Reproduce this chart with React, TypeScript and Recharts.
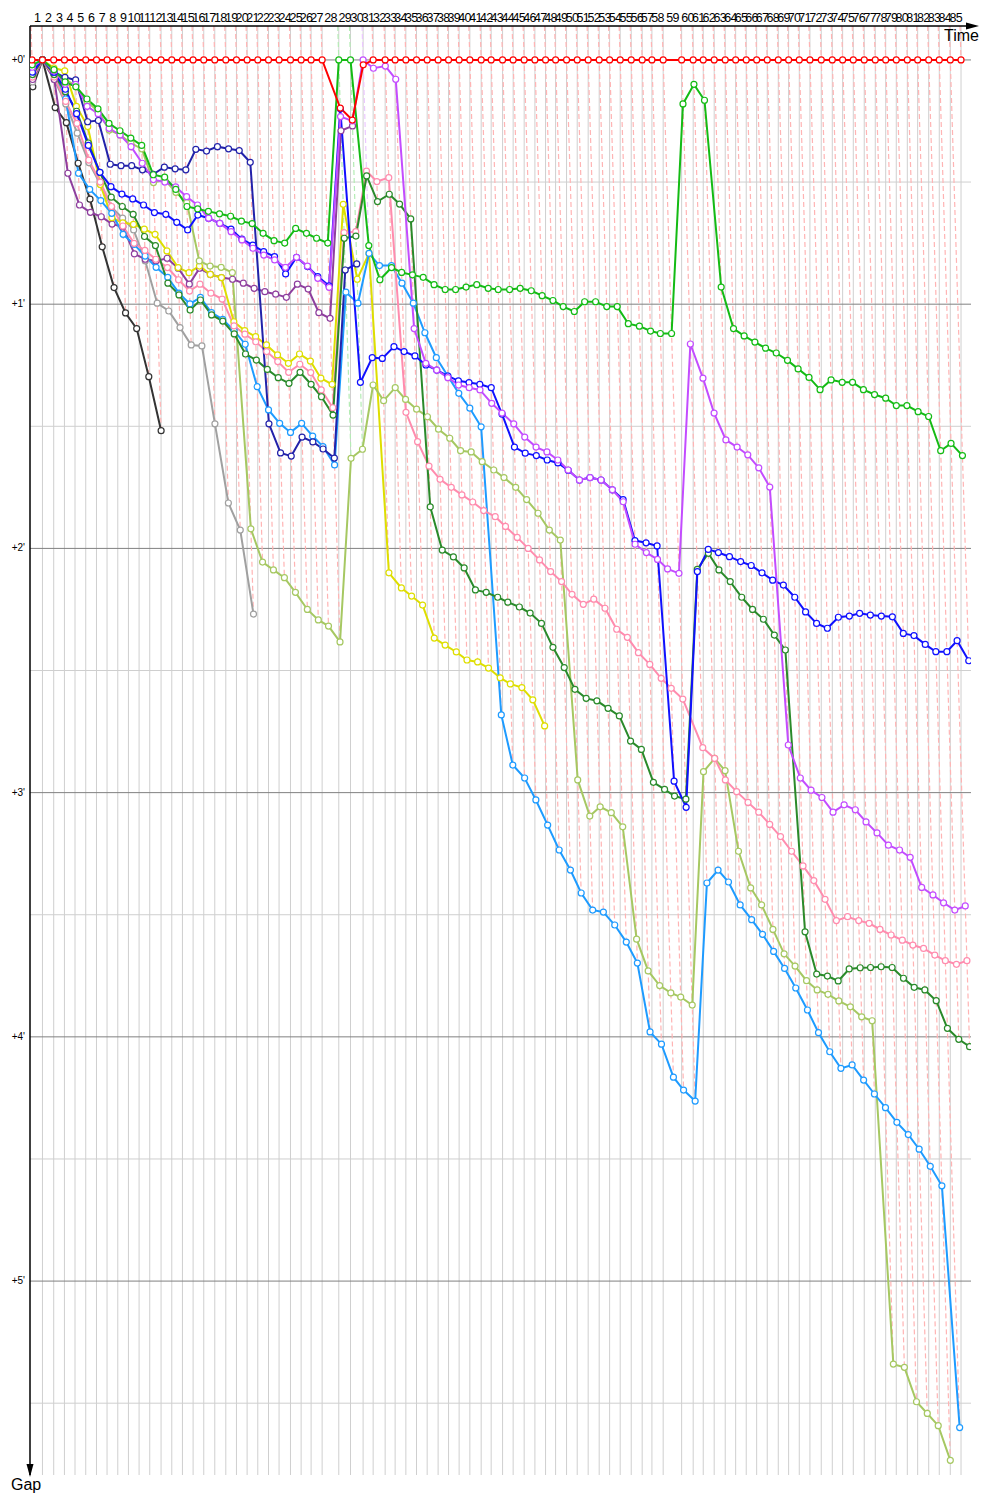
import React from 'react';
import { ComposedChart, Line, XAxis, YAxis, ReferenceLine } from 'recharts';

// leader's elapsed time (minutes) when completing each lap, index 0 = start
const lapTimes = [
  0, 1.39, 2.89, 4.32, 5.73, 7.16, 8.59, 10.0, 11.43, 12.85,
  14.27, 15.69, 17.2, 18.63, 20.05, 21.47, 22.89, 24.36, 25.83, 27.25,
  28.67, 30.09, 31.52, 32.93, 34.45, 35.87, 37.2, 38.67, 40.89, 42.45,
  44.13, 45.47, 47.07, 48.4, 49.83, 51.25, 52.67, 54.13, 55.52, 56.93,
  58.36, 59.87, 61.2, 62.72, 64.13, 65.6, 67.03, 68.45, 69.79, 71.25,
  72.67, 74.13, 75.6, 76.99, 78.4, 79.87, 81.33, 82.63, 84.13, 86.59,
  88.13, 89.47, 90.93, 92.4, 93.79, 95.2, 96.59, 98.0, 99.47, 100.85,
  102.27, 103.69, 105.2, 106.67, 108.05, 109.47, 110.93, 112.4, 113.79, 115.2,
  116.67, 118.05, 119.52, 120.93, 122.4, 123.83,
];

const lapLabels = lapTimes.slice(1).map((_, i) => String(i + 1));
const gapTicks = [0, 1, 2, 3, 4, 5];
const halfLines = [0.5, 1.5, 2.5, 3.5, 4.5, 5.5];

// gap to leader in minutes, index = lap
const redGaps = [
  0, 0, 0, 0, 0, 0, 0, 0, 0, 0,
  0, 0, 0, 0, 0, 0, 0, 0, 0, 0,
  0, 0, 0, 0, 0, 0, 0, 0, 0.197, 0.246,
  0.02, 0, 0, 0, 0, 0, 0, 0, 0, 0,
  0, 0, 0, 0, 0, 0, 0, 0, 0, 0,
  0, 0, 0, 0, 0, 0, 0, 0, 0, 0,
  0, 0, 0, 0, 0, 0, 0, 0, 0, 0,
  0, 0, 0, 0, 0, 0, 0, 0, 0, 0,
  0, 0, 0, 0, 0, 0,
];
const greenGaps = [
  0.02, 0, 0.04, 0.09, 0.11, 0.16, 0.2, 0.26, 0.29, 0.32,
  0.35, 0.47, 0.48, 0.53, 0.6, 0.61, 0.62, 0.63, 0.64, 0.66,
  0.67, 0.71, 0.74, 0.75, 0.69, 0.71, 0.73, 0.75, 0, 0,
  0.76, 0.9, 0.85, 0.87, 0.88, 0.89, 0.92, 0.94, 0.94, 0.93,
  0.92, 0.935, 0.94, 0.94, 0.935, 0.945, 0.965, 0.985, 1.01, 1.03,
  0.99, 0.99, 1.01, 1.01, 1.08, 1.09, 1.11, 1.12, 1.12, 0.18,
  0.1, 0.165, 0.93, 1.1, 1.13, 1.155, 1.18, 1.2, 1.23, 1.265,
  1.3, 1.35, 1.31, 1.32, 1.32, 1.35, 1.37, 1.385, 1.415, 1.415,
  1.44, 1.46, 1.6, 1.57, 1.62,
];
const purpleGaps = [
  0.03, 0, 0.045, 0.1, 0.1, 0.19, 0.22, 0.28, 0.307, 0.355,
  0.423, 0.49, 0.5, 0.52, 0.56, 0.594, 0.648, 0.669, 0.703, 0.737,
  0.771, 0.799, 0.819, 0.849, 0.808, 0.844, 0.894, 0.931, 0.232, 0.25,
  0, 0.034, 0.025, 0.079, 1.1, 1.242, 1.27, 1.301, 1.331, 1.342,
  1.351, 1.406, 1.446, 1.49, 1.544, 1.585, 1.605, 1.638, 1.679, 1.72,
  1.71, 1.72, 1.76, 1.809, 1.983, 2.017, 2.045, 2.084, 2.102, 1.163,
  1.303, 1.446, 1.556, 1.585, 1.617, 1.67, 1.749, 2.805, 2.94, 2.99,
  3.02, 3.08, 3.05, 3.07, 3.12, 3.165, 3.215, 3.235, 3.265, 3.388,
  3.419, 3.451, 3.481, 3.464,
];
const blueGaps = [
  0.05, 0, 0.05, 0.12, 0.22, 0.35, 0.46, 0.519, 0.549, 0.569,
  0.594, 0.625, 0.632, 0.665, 0.696, 0.635, 0.648, 0.669, 0.693, 0.734,
  0.758, 0.785, 0.805, 0.876, 0.808, 0.846, 0.887, 0.925, 0.2, 1.32,
  1.219, 1.222, 1.174, 1.194, 1.212, 1.249, 1.27, 1.294, 1.314, 1.321,
  1.328, 1.342, 1.45, 1.585, 1.61, 1.62, 1.638, 1.65, 1.68, 1.72,
  1.71, 1.72, 1.76, 1.8, 1.968, 1.977, 1.99, 2.953, 3.06, 2.095,
  2.004, 2.017, 2.034, 2.054, 2.07, 2.1, 2.13, 2.15, 2.2, 2.26,
  2.307, 2.327, 2.282, 2.277, 2.266, 2.273, 2.277, 2.28, 2.348, 2.357,
  2.393, 2.423, 2.423, 2.378, 2.46,
];
const navyGaps = [
  0.03, 0, 0.05, 0.071, 0.082, 0.253, 0.248, 0.427, 0.433, 0.433,
  0.45, 0.468, 0.439, 0.446, 0.45, 0.366, 0.373, 0.355, 0.364, 0.371,
  0.419, 1.49, 1.609, 1.622, 1.544, 1.564, 1.593, 1.63, 0.86, 0.835,
];
const darkGreenGaps = [
  0.06, 0, 0.06, 0.13, 0.21, 0.34, 0.46, 0.562, 0.6, 0.632,
  0.723, 0.76, 0.914, 0.962, 1.024, 0.983, 1.044, 1.069, 1.122, 1.204,
  1.229, 1.267, 1.301, 1.324, 1.279, 1.328, 1.379, 1.454, 0.73, 0.721,
  0.475, 0.58, 0.55, 0.59, 0.651, 1.83, 2.007, 2.035, 2.08, 2.17,
  2.18, 2.2, 2.22, 2.24, 2.265, 2.307, 2.405, 2.488, 2.577, 2.614,
  2.624, 2.655, 2.686, 2.789, 2.823, 2.958, 2.987, 3.014, 3.027, 2.086,
  2.02, 2.088, 2.136, 2.2, 2.25, 2.29, 2.355, 2.416, 3.57, 3.743,
  3.751, 3.771, 3.722, 3.717, 3.716, 3.713, 3.716, 3.76, 3.797, 3.808,
  3.852, 3.965, 4.01, 4.04,
];
const pinkGaps = [
  0.07, 0, 0.07, 0.17, 0.26, 0.41, 0.5, 0.6, 0.68, 0.751,
  0.78, 0.816, 0.85, 0.9, 0.946, 0.918, 0.955, 0.979, 1.089, 1.123,
  1.154, 1.194, 1.235, 1.279, 1.246, 1.28, 1.351, 1.424, 0.707, 0.703,
  0.455, 0.498, 0.482, 1.443, 1.563, 1.663, 1.717, 1.75, 1.781, 1.81,
  1.845, 1.87, 1.91, 1.955, 2.0, 2.047, 2.095, 2.136, 2.188, 2.229,
  2.208, 2.245, 2.331, 2.364, 2.427, 2.475, 2.532, 2.573, 2.617, 2.816,
  2.86, 2.948, 2.996, 3.04, 3.08, 3.13, 3.18, 3.24, 3.3, 3.36,
  3.437, 3.524, 3.508, 3.524, 3.535, 3.56, 3.583, 3.604, 3.624, 3.638,
  3.665, 3.688, 3.703, 3.688,
];
const cyanGaps = [
  0.06, 0, 0.06, 0.16, 0.464, 0.53, 0.576, 0.628, 0.714, 0.755,
  0.803, 0.849, 0.89, 0.955, 0.999, 0.972, 1.035, 1.062, 1.108, 1.164,
  1.338, 1.433, 1.488, 1.525, 1.488, 1.54, 1.583, 1.658, 0.951, 0.996,
  0.792, 0.842, 0.842, 0.914, 0.996, 1.117, 1.219, 1.294, 1.365, 1.426,
  1.502, 2.682, 2.887, 2.94, 3.03, 3.133, 3.235, 3.317, 3.411, 3.481,
  3.489, 3.542, 3.612, 3.698, 3.98, 4.03, 4.165, 4.218, 4.263, 3.37,
  3.317, 3.366, 3.46, 3.52, 3.58, 3.65, 3.72, 3.8, 3.89, 3.983,
  4.061, 4.129, 4.115, 4.177, 4.234, 4.29, 4.35, 4.4, 4.46, 4.53,
  4.61, 5.6,
];
const oliveGaps = [
  0.04, 0, 0.05, 0.08, 0.106, 0.17, 0.21, 0.287, 0.307, 0.341,
  0.364, 0.502, 0.491, 0.542, 0.584, 0.823, 0.844, 0.849, 0.871, 1.92,
  2.056, 2.088, 2.12, 2.18, 2.25, 2.293, 2.318, 2.383, 1.631, 1.594,
  1.331, 1.395, 1.342, 1.39, 1.43, 1.461, 1.512, 1.549, 1.6, 1.605,
  1.645, 1.679, 1.71, 1.75, 1.8, 1.856, 1.925, 1.966, 2.948, 3.096,
  3.058, 3.082, 3.14, 3.6, 3.73, 3.79, 3.82, 3.837, 3.87, 2.914,
  2.86, 2.91, 3.24, 3.39, 3.46, 3.56, 3.66, 3.71, 3.77, 3.808,
  3.826, 3.853, 3.877, 3.918, 3.934, 5.34, 5.353, 5.494, 5.542, 5.592,
  5.734,
];
const yellowGaps = [
  0.05, 0, 0.033, 0.045, 0.19, 0.273, 0.51, 0.646, 0.667, 0.673,
  0.693, 0.714, 0.782, 0.85, 0.871, 0.844, 0.878, 0.891, 1.072, 1.108,
  1.133, 1.167, 1.208, 1.242, 1.204, 1.233, 1.303, 1.328, 0.591, 0.898,
  0.792, 2.1, 2.162, 2.195, 2.232, 2.367, 2.396, 2.424, 2.457, 2.465,
  2.49, 2.53, 2.555, 2.57, 2.62, 2.727,
];
const plumGaps = [
  0.08, 0, 0.08, 0.464, 0.594, 0.624, 0.642, 0.672, 0.683, 0.794,
  0.816, 0.823, 0.812, 0.853, 0.918, 0.853, 0.878, 0.891, 0.898, 0.914,
  0.935, 0.949, 0.959, 0.972, 0.918, 0.938, 1.035, 1.058, 0.29, 0.27,
];
const grayGaps = [
  0.09, 0, 0.08, 0.18, 0.3, 0.42, 0.508, 0.603, 0.648, 0.696,
  0.823, 0.996, 1.028, 1.096, 1.167, 1.171, 1.49, 1.814, 1.925, 2.269,
];
const blackGaps = [
  0.11, 0, 0.195, 0.257, 0.423, 0.57, 0.765, 0.932, 1.036, 1.1, 1.297, 1.518,
];

const drivers = [
  { key: 'red', color: '#ff0000', lapColor: '#ffb4b4', gaps: redGaps },
  { key: 'green', color: '#14bb14', lapColor: '#b4ecb4', gaps: greenGaps },
  { key: 'purple', color: '#c34cff', lapColor: '#ecc8ff', gaps: purpleGaps },
  { key: 'blue', color: '#1010ff', lapColor: '#b8b8ff', gaps: blueGaps },
  { key: 'navy', color: '#2222aa', lapColor: '#b8b8e0', gaps: navyGaps },
  { key: 'darkGreen', color: '#2a8a2a', lapColor: '#bcdcbc', gaps: darkGreenGaps },
  { key: 'pink', color: '#ff8cae', lapColor: '#ffd8e4', gaps: pinkGaps },
  { key: 'cyan', color: '#1e9bff', lapColor: '#bce0ff', gaps: cyanGaps },
  { key: 'olive', color: '#a6c862', lapColor: '#e2eed0', gaps: oliveGaps },
  { key: 'yellow', color: '#dede00', lapColor: '#f4f4b0', gaps: yellowGaps },
  { key: 'plum', color: '#8e3e9e', lapColor: '#dcc4e2', gaps: plumGaps },
  { key: 'gray', color: '#a0a0a0', lapColor: '#e0e0e0', gaps: grayGaps },
  { key: 'black', color: '#333333', lapColor: '#c8c8c8', gaps: blackGaps },
];

const drawOrder = ['black', 'gray', 'plum', 'yellow', 'olive', 'cyan', 'pink', 'darkGreen', 'navy', 'blue', 'purple', 'green', 'red'];

const Y_MIN = -0.139;
const Y_MAX = 5.794;
const X_MIN = -0.27;
const X_MAX = 125.16;
const FONT = '"Liberation Sans", Arial, sans-serif';

// a car's point sits at its own race time: leader time + gap
const toPoints = (gaps: (number | null)[]) =>
  gaps
    .map((g, lap) => (g == null ? null : { x: lapTimes[lap] + g, y: g }))
    .filter(Boolean);

// dashed lap line: runs from the leader crossing down to the last car on that lap
const lapLines = lapTimes.map((t, lap) => {
  let leader = drivers[0];
  let best = Infinity;
  let worst = -Infinity;
  drivers.forEach((d) => {
    const g = d.gaps[lap];
    if (g == null) return;
    if (g < best) {
      best = g;
      leader = d;
    }
    if (g > worst) worst = g;
  });
  return {
    lap,
    color: leader.lapColor,
    points: [
      { x: t + Y_MIN, y: Y_MIN },
      { x: t + worst, y: worst },
    ],
  };
});

const lapTicks = lapTimes.slice(1).map((t, i) => (lapTimes[i] + t) / 2);

const LapTick = (props: any) => {
  const { x, index } = props;
  return (
    <text x={x} y={22} textAnchor="middle" fontSize={12.5} fontFamily={FONT} fill="#000" letterSpacing={-0.7}>
      {lapLabels[index]}
    </text>
  );
};

const GapTick = (props: any) => {
  const { y, payload } = props;
  return (
    <text x={25} y={y + 3} textAnchor="end" fontSize={10} fontFamily={FONT} fill="#000">
      {`+${payload.value}'`}
    </text>
  );
};

export default function App() {
  return (
    <div style={{ position: 'absolute', left: 0, top: 0, width: 1000, height: 1500, background: '#fff' }}>
      <ComposedChart width={1000} height={1500} margin={{ top: 0, right: 29, bottom: 25, left: 0 }}>
        <XAxis
          type="number"
          dataKey="x"
          orientation="top"
          domain={[X_MIN, X_MAX]}
          allowDataOverflow
          ticks={lapTicks}
          interval={0}
          tick={(p: any) => <LapTick {...p} />}
          tickLine={false}
          height={26}
          axisLine={{ stroke: '#000', strokeWidth: 1.5 }}
        />
        <YAxis
          type="number"
          dataKey="y"
          domain={[Y_MIN, Y_MAX]}
          reversed
          allowDataOverflow
          ticks={gapTicks}
          interval={0}
          tick={(p: any) => <GapTick {...p} />}
          tickLine={false}
          width={30}
          axisLine={{ stroke: '#000', strokeWidth: 1.5 }}
        />
        {lapTimes.slice(1).map((t, i) => (
          <ReferenceLine key={`vg${i}`} x={t} stroke="#cfcfcf" strokeWidth={1} />
        ))}
        {halfLines.map((v) => (
          <ReferenceLine key={`hh${v}`} y={v} stroke="#cfcfcf" strokeWidth={1} />
        ))}
        {gapTicks.map((v) => (
          <ReferenceLine key={`hg${v}`} y={v} stroke="#808080" strokeWidth={1} />
        ))}
        {lapLines.map((l) => (
          <Line
            key={`lap${l.lap}`}
            data={l.points}
            dataKey="y"
            stroke={l.color}
            strokeWidth={1.2}
            strokeDasharray="5 3"
            dot={false}
            activeDot={false}
            isAnimationActive={false}
          />
        ))}
        {drawOrder.map((k) => {
          const d = drivers.find((dr) => dr.key === k)!;
          return (
            <Line
              key={d.key}
              data={toPoints(d.gaps)}
              dataKey="y"
              stroke={d.color}
              strokeWidth={2}
              dot={{ r: 3, fill: '#fff', stroke: d.color, strokeWidth: 1.2 }}
              activeDot={false}
              isAnimationActive={false}
            />
          );
        })}
      </ComposedChart>
      <svg width={1000} height={1500} style={{ position: 'absolute', left: 0, top: 0, pointerEvents: 'none' }}>
        <polygon points="966,22.5 979,26 966,29.5" fill="#000" />
        <polygon points="26.5,1464 33.5,1464 30,1477" fill="#000" />
        <text x={944} y={41} fontSize={16} fontFamily={FONT} fill="#000">Time</text>
        <text x={11} y={1490} fontSize={16} fontFamily={FONT} fill="#000">Gap</text>
      </svg>
    </div>
  );
}
